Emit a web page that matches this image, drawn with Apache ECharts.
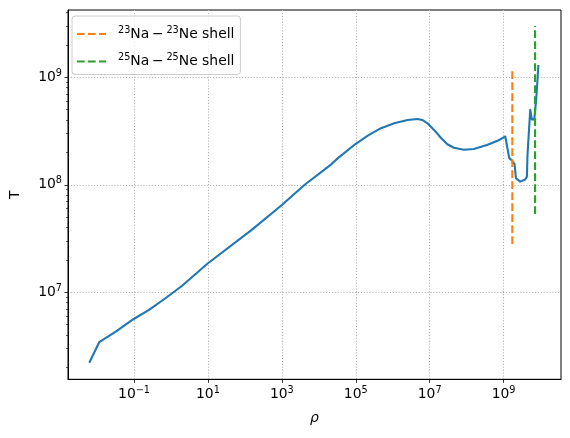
<!DOCTYPE html>
<html>
<head>
<meta charset="utf-8">
<script src="https://cdn.jsdelivr.net/npm/echarts@6/dist/echarts.min.js"></script>
<style>
	html, body { margin: 0; padding: 0; background: #fff; }
	#chart { width: 570px; height: 438px; }
</style>
</head>
<body>
<div id="chart"></div>
<script>
	// profile: density rho vs temperature T
	const rho = [6.15e-3, 1.14e-2, 3.2e-2, 9.55e-2, 0.254, 0.708, 2.0, 10, 153, 1e3, 4.15e3,
		2.17e4, 3.29e4, 9.6e4, 2.11e5, 4.81e5, 1.1e6, 2.51e6, 4.68e6, 6.31e6, 8.71e6,
		1.31e7, 2.0e7, 3.0e7, 4.52e7, 8.4e7, 1.56e8, 3.55e8, 6.6e8, 1.11e9, 1.23e9,
		1.42e9, 1.71e9, 1.86e9, 1.98e9, 2.16e9, 2.82e9, 3.84e9, 4.27e9, 4.43e9, 5.0e9,
		5.25e9, 5.56e9, 5.81e9, 6.76e9, 7.59e9, 8.26e9, 8.71e9]
	const temp = [2.21e6, 3.43e6, 4.3e6, 5.61e6, 6.84e6, 8.79e6, 1.15e7, 1.86e7, 3.8e7, 6.49e7, 1.0e8,
		1.55e8, 1.77e8, 2.38e8, 2.86e8, 3.36e8, 3.73e8, 4.01e8, 4.09e8, 4.01e8, 3.73e8,
		3.24e8, 2.74e8, 2.38e8, 2.21e8, 2.12e8, 2.15e8, 2.34e8, 2.55e8, 2.81e8, 2.83e8,
		1.77e8, 1.67e8, 1.6e8, 1.56e8, 1.15e8, 1.07e8, 1.12e8, 1.19e8, 1.89e8, 1.92e8,
		4.97e8, 4.79e8, 4.06e8, 4.06e8, 6.15e8, 9.44e8, 1.3e9]

	// shell markers
	const na23Rho = [1.72e9, 1.72e9]
	const na23T = [2.81e7, 1.15e9]
	const na25Rho = [7.1e9, 7.1e9]
	const na25T = [5.35e7, 3.0e9]

	const xTicks = [1e-1, 1e1, 1e3, 1e5, 1e7, 1e9]
	const yTicks = [1e7, 1e8, 1e9]

	const xMin = Math.pow(10, -2.787)
	const xMax = Math.pow(10, 10.553)
	const yMin = Math.pow(10, 6.19)
	const yMax = Math.pow(10, 9.626)

	let yMinor = []
	for (let e = 6; e <= 9; e++) {
		for (let m = 2; m <= 9; m++) {
			const v = m * Math.pow(10, e)
			if (v > yMin && v < yMax) yMinor.push(v)
		}
	}

	const zip = (a, b) => a.map((v, i) => [v, b[i]])

	const font = 'DejaVu Sans'
	const powLabel = (v) => {
		const e = Math.round(Math.log10(v))
		return '{b|10}{s|' + String(e).replace('-', '\u2212') + '}'
	}
	const powRich = {
		b: { fontFamily: font, fontSize: 13.9, color: '#000', lineHeight: 18 },
		s: { fontFamily: font, fontSize: 9.7, color: '#000', verticalAlign: 'top', padding: [0, 0, 8, 0] }
	}
	const legRich = {
		b: { fontFamily: font, fontSize: 13.9, color: '#000', lineHeight: 18 },
		s: { fontFamily: font, fontSize: 9.7, color: '#000', padding: [0, 0, 8, 0] }
	}
	const dash = [7.7, 3.3]
	const dots = [1.1, 1.8]

	const chart = echarts.init(document.getElementById('chart'), null, { renderer: 'canvas' })

	chart.setOption({
		animation: false,
		backgroundColor: '#fff',
		grid: {
			left: 65.3,
			right: 9,
			top: 10,
			bottom: 58.7,
			show: true,
			borderColor: '#000',
			borderWidth: 1
		},
		legend: {
			data: ['na23', 'na25'],
			orient: 'vertical',
			left: 72,
			top: 16,
			itemWidth: 29,
			itemHeight: 14,
			itemGap: 11.5,
			padding: [9, 6, 6, 4],
			borderColor: '#cccccc',
			borderWidth: 1,
			borderRadius: 3,
			backgroundColor: 'rgba(255,255,255,0.8)',
			itemStyle: { opacity: 0 },
			formatter: (name) => {
				const n = name === 'na23' ? '23' : '25'
				return '{s|' + n + '}{b|Na\u2009\u2212\u2009}{s|' + n + '}{b|Ne shell}'
			},
			textStyle: { rich: legRich, padding: [0, 0, 0, 7] }
		},
		xAxis: {
			type: 'log',
			logBase: 10,
			min: xMin,
			max: xMax,
			name: 'ρ',
			nameLocation: 'middle',
			nameGap: 32,
			nameTextStyle: { fontFamily: font, fontSize: 13.9, fontStyle: 'italic', color: '#000' },
			axisLine: { show: true, lineStyle: { color: '#000', width: 1 } },
			axisTick: { show: true, inside: false, length: 3.5, customValues: xTicks, lineStyle: { color: '#000', width: 0.8 } },
			axisLabel: { show: true, customValues: xTicks, margin: 6, formatter: powLabel, rich: powRich },
			splitLine: { show: true, lineStyle: { color: '#b0b0b0', width: 1.1, type: dots } }
		},
		yAxis: [{
			type: 'log',
			logBase: 10,
			min: yMin,
			max: yMax,
			name: 'T',
			nameLocation: 'middle',
			nameGap: 46,
			nameTextStyle: { fontFamily: font, fontSize: 13.9, color: '#000' },
			axisLine: { show: true, lineStyle: { color: '#000', width: 1 } },
			axisTick: { show: true, inside: false, length: 3.5, customValues: yTicks, lineStyle: { color: '#000', width: 0.8 } },
			axisLabel: { show: true, customValues: yTicks, margin: 6, formatter: powLabel, rich: powRich },
			splitLine: { show: true, lineStyle: { color: '#b0b0b0', width: 1.1, type: dots } }
		}, {
			type: 'log',
			logBase: 10,
			min: yMin,
			max: yMax,
			position: 'left',
			axisLine: { show: false },
			axisLabel: { show: false },
			splitLine: { show: false },
			axisTick: { show: true, inside: false, length: 2, customValues: yMinor, lineStyle: { color: '#000', width: 0.6 } }
		}],
		series: [{
			name: 'profile',
			type: 'line',
			data: zip(rho, temp),
			showSymbol: false,
			symbol: 'none',
			lineStyle: { color: '#1f77b4', width: 2.1, join: 'round' },
			itemStyle: { color: '#1f77b4' }
		}, {
			name: 'na23',
			type: 'line',
			data: zip(na23Rho, na23T),
			symbol: 'none',
			lineStyle: { color: '#ff7f0e', width: 2.1, type: dash },
			itemStyle: { color: '#ff7f0e' }
		}, {
			name: 'na25',
			type: 'line',
			data: zip(na25Rho, na25T),
			symbol: 'none',
			lineStyle: { color: '#2ca02c', width: 2.1, type: dash },
			itemStyle: { color: '#2ca02c' }
		}]
	})

	window.addEventListener('resize', () => {
		chart.resize()
	})
</script>
</body>
</html>
